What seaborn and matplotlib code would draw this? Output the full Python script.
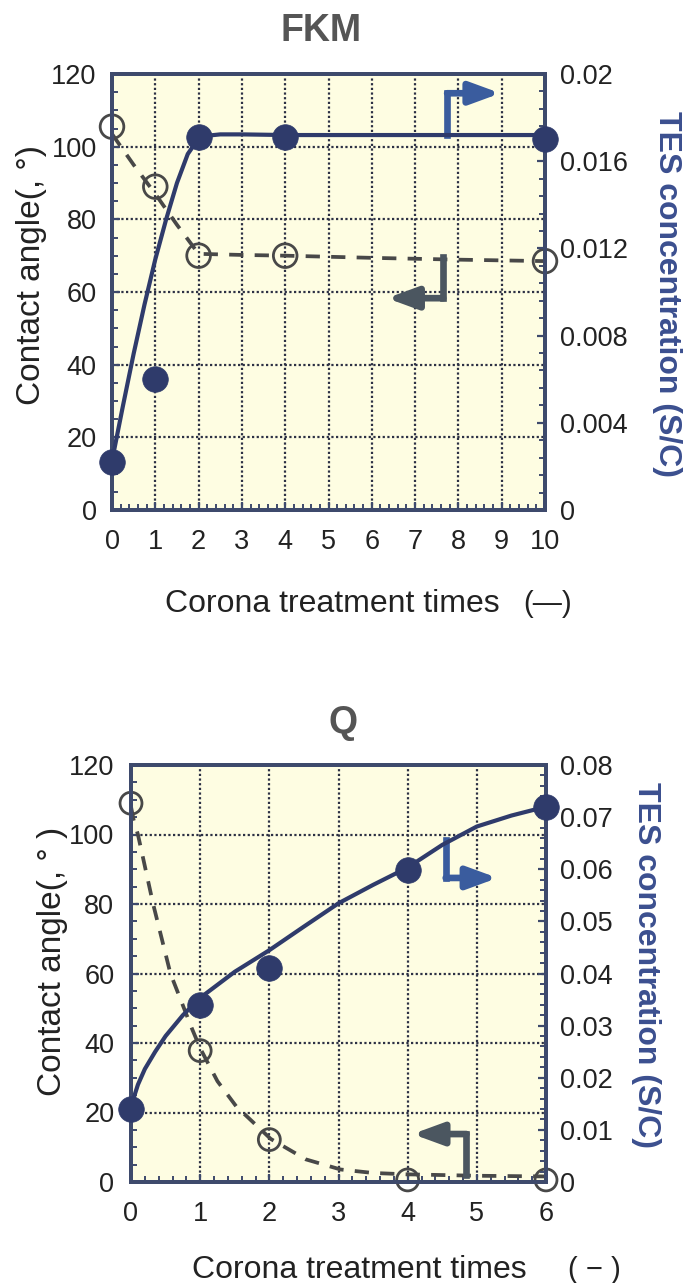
import matplotlib
matplotlib.use("Agg")
import matplotlib.pyplot as plt
import seaborn as sns
from matplotlib.ticker import MultipleLocator, FuncFormatter

sns.set_theme(style="ticks")
plt.rcParams['font.family'] = ['Liberation Sans', 'DejaVu Sans']

# ---------------- data: FKM ----------------
fkm_x = [0, 1, 2, 4, 10]
fkm_angle = [105.5, 89, 70, 70, 68.5]
fkm_tes = [0.0022, 0.0060, 0.0171, 0.0171, 0.0170]
fkm_angle_curve_x = [0, 0.5, 1, 1.5, 2, 3, 4, 6, 8, 10]
fkm_angle_curve = [103.5, 95, 87, 78.5, 70.5, 70.2, 70.0, 69.4, 68.9, 68.5]
fkm_tes_curve_x = [0, 0.25, 0.5, 0.75, 1.0, 1.25, 1.5, 1.75, 2.0, 2.25, 2.5, 3, 4, 10]
fkm_tes_curve = [0.00225, 0.00475, 0.00717, 0.00942, 0.0115, 0.01333, 0.0150,
                 0.01633, 0.01705, 0.01718, 0.01723, 0.01723, 0.0172, 0.0172]

# ---------------- data: Q ----------------
q_x = [0, 1, 2, 4, 6]
q_angle = [109, 37.8, 12.2, 0.6, 0.6]
q_tes = [0.0141, 0.0340, 0.0411, 0.0598, 0.0720]
q_angle_curve_x = [0.0, 0.04, 0.1, 0.32, 0.57, 0.88, 1.0, 1.25, 1.52, 2.02, 2.53, 3.03, 3.5, 4.0, 5.0, 6.0]
q_angle_curve = [108, 104, 100, 80, 60, 44.2, 38.5, 29, 21.8, 12.4, 6.5, 3.6, 2.6, 2.2, 1.8, 1.6]
q_tes_curve_x = [0, 0.1, 0.2, 0.35, 0.5, 0.75, 1, 1.5, 2, 2.5, 3, 3.5, 4, 4.5, 5, 5.5, 6]
q_tes_curve = [0.01453, 0.01867, 0.02167, 0.025, 0.028, 0.032, 0.03533, 0.04033,
               0.04447, 0.049, 0.05347, 0.057, 0.06033, 0.06467, 0.0682, 0.0703, 0.0720]

x_label = "Corona treatment times"
y_label_top = "Contact angle(, °)"
y_label_bot = "Contact angle(, ° )"
y2_label = "TES concentration (S/C)"

BG = '#fefde2'
SPINE = '#3e4a6c'
NAVY = '#2f3b6b'
GRAY = '#484848'
BLUE_LABEL = '#3b4f8f'
ARROW_BLUE = '#3a5c9e'
ARROW_GRAY = '#4b5660'
TXT = '#222222'

W, H = 685, 1283
fig = plt.figure(figsize=(W / 100, H / 100), dpi=100)
fig.patch.set_facecolor('white')


def px_axes(l, t, r, b):
    return fig.add_axes([l / W, (H - b) / H, (r - l) / W, (b - t) / H])


def style_axes(ax, ax2, xmax, x_minor, y2max, y2_major, y2_minor, xpad, lpad, rpad):
    ax.set_facecolor(BG)
    ax.set_xlim(0, xmax)
    ax.set_ylim(0, 120)
    ax2.set_ylim(0, y2max)
    ax.xaxis.set_major_locator(MultipleLocator(1))
    ax.xaxis.set_minor_locator(MultipleLocator(x_minor))
    ax.yaxis.set_major_locator(MultipleLocator(20))
    ax.yaxis.set_minor_locator(MultipleLocator(5))
    ax2.yaxis.set_major_locator(MultipleLocator(y2_major))
    ax2.yaxis.set_minor_locator(MultipleLocator(y2_minor))
    ax2.yaxis.set_major_formatter(FuncFormatter(lambda v, p: '0' if abs(v) < 1e-12 else f'{v:g}'))
    ax.grid(True, which='major', color='#2c3044', linestyle=(0, (1.0, 1.1)), linewidth=1.6)
    ax2.grid(False)
    ax.set_axisbelow(True)
    for a in (ax, ax2):
        for s in a.spines.values():
            s.set_visible(True)
            s.set_color(SPINE)
            s.set_linewidth(2.8)
        a.set_xlabel('')
        a.set_ylabel('')
    ax.tick_params(axis='x', which='both', direction='in', color=SPINE, top=False,
                   labelsize=19.5, labelcolor=TXT, pad=xpad)
    ax.tick_params(axis='y', which='both', direction='in', color=SPINE, right=False,
                   labelsize=19.5, labelcolor=TXT, pad=lpad)
    ax2.tick_params(axis='y', which='both', direction='in', color=SPINE, left=False,
                    labelsize=19.5, labelcolor=TXT, pad=rpad)
    for a in (ax, ax2):
        a.tick_params(which='major', length=6, width=1.6)
        a.tick_params(which='minor', length=4, width=1.4)


def l_arrow(ax, start, corner, tip, color):
    ax.plot([start[0], corner[0]], [start[1], corner[1]], color=color, lw=4.8,
            solid_capstyle='projecting', zorder=7, clip_on=False)
    ax.annotate('', xy=tip, xytext=corner,
                arrowprops=dict(arrowstyle='-|>,head_length=0.9,head_width=0.33',
                                mutation_scale=20, color=color, lw=4.8,
                                shrinkA=0, shrinkB=0), zorder=7)


def draw_panel(ax, xs, angle, tes, acx, acy, tcx, tcy, open_s, filled_s):
    ax2 = ax.twinx()
    sns.lineplot(x=acx, y=acy, ax=ax, color=GRAY, linewidth=2.7,
                 linestyle=(0, (3.8, 3.0)), zorder=3)
    sns.scatterplot(x=xs, y=angle, ax=ax, s=open_s, marker='o', zorder=4, clip_on=False)
    coll = ax.collections[-1]
    coll.set_facecolor('none')
    coll.set_edgecolor(GRAY)
    coll.set_linewidth(2.0)
    sns.lineplot(x=tcx, y=tcy, ax=ax2, color=NAVY, linewidth=3.0, zorder=3)
    sns.scatterplot(x=xs, y=tes, ax=ax2, s=filled_s, color=NAVY, edgecolor=NAVY,
                    linewidth=0.5, zorder=5, clip_on=False)
    return ax2


# ---------------- FKM panel ----------------
ax1 = px_axes(112, 74, 545, 510)
ax1b = draw_panel(ax1, fkm_x, fkm_angle, fkm_tes, fkm_angle_curve_x, fkm_angle_curve,
                  fkm_tes_curve_x, fkm_tes_curve, 290, 340)
style_axes(ax1, ax1b, 10, 0.2, 0.02, 0.004, 0.0008, 14, 11, 11)
l_arrow(ax1, (7.74, 103.2), (7.74, 114.7), (8.97, 114.7), ARROW_BLUE)
l_arrow(ax1, (7.65, 69.5), (7.65, 58.3), (6.35, 58.3), ARROW_GRAY)

# ---------------- Q panel ----------------
ax3 = px_axes(131, 765, 546, 1182)
ax3b = draw_panel(ax3, q_x, q_angle, q_tes, q_angle_curve_x, q_angle_curve,
                  q_tes_curve_x, q_tes_curve, 250, 340)
style_axes(ax3, ax3b, 6, 0.2, 0.08, 0.01, 0.002, 14, 12, 10)
l_arrow(ax3, (4.55, 98.5), (4.55, 87.5), (5.3, 87.5), ARROW_BLUE)
l_arrow(ax3, (4.85, 2.0), (4.85, 13.8), (4.07, 13.8), ARROW_GRAY)

# ---------------- texts ----------------
def ftext(x, y, s, **kw):
    fig.text(x / W, (H - y) / H, s, **kw)

ftext(321, 41, 'FKM', ha='center', va='baseline', fontsize=27, fontweight='bold', color='#555555')
ftext(343, 733, 'Q', ha='center', va='baseline', fontsize=27, fontweight='bold', color='#555555')

ftext(32, 275, y_label_top, rotation=90, ha='center', va='center', fontsize=24, color=TXT)
ftext(52, 961, y_label_bot, rotation=90, ha='center', va='center', fontsize=24, color=TXT)

ftext(667, 294, y2_label, rotation=-90, ha='center', va='center', fontsize=23,
      fontweight='bold', color=BLUE_LABEL)
ftext(646, 965, y2_label, rotation=-90, ha='center', va='center', fontsize=23,
      fontweight='bold', color=BLUE_LABEL)

ftext(332, 612, x_label, ha='center', va='baseline', fontsize=23, color=TXT)
ftext(548, 612, '(—)', ha='center', va='baseline', fontsize=21, color=TXT)
ftext(359, 1278, x_label, ha='center', va='baseline', fontsize=23, color=TXT)
ftext(594, 1278, '( − )', ha='center', va='baseline', fontsize=21, color=TXT)

fig.savefig('out.png', dpi=100, facecolor='white')
